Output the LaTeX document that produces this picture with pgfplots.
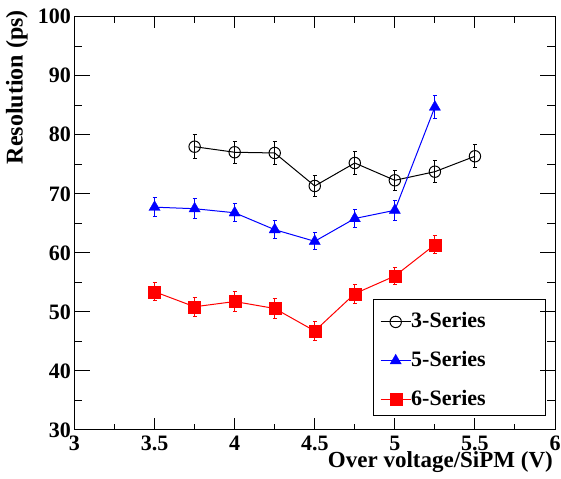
\documentclass[border=0pt]{standalone}
\usepackage{fontspec}
\setmainfont{Liberation Serif}
\usepackage{pgfplots}
\usepackage{pgfplotstable}
\pgfplotsset{compat=1.18}

\pgfplotstableread{
x y e
3.75 77.98 2.0
4.00 77.04 1.9
4.25 76.92 1.9
4.50 71.33 1.8
4.75 75.22 1.9
5.00 72.29 1.7
5.25 73.75 1.9
5.50 76.36 1.95
}\tthree

\pgfplotstableread{
x y e
3.50 67.74 1.65
3.75 67.48 1.7
4.00 66.79 1.55
4.25 63.93 1.57
4.50 61.96 1.46
4.75 65.82 1.55
5.00 67.21 1.7
5.25 84.70 1.9
}\tfive

\pgfplotstableread{
x y e
3.50 53.42 1.5
3.75 50.87 1.6
4.00 51.76 1.66
4.25 50.58 1.66
4.50 46.77 1.69
4.75 53.09 1.63
5.00 56.08 1.5
5.25 61.39 1.57
}\tsix

\begin{document}
\begin{tikzpicture}
\begin{axis}[
  scale only axis,
  width=480.5bp, height=413.3bp,
  xmin=3, xmax=6, ymin=30, ymax=100,
  xtick={3,3.5,...,6}, ytick={30,40,...,100},
  minor xtick={3.25,3.75,...,5.75}, minor ytick={35,45,...,95},
  tick pos=both, tick align=inside,
  axis line style={line width=1bp},
  tick style={black, line width=1bp},
  xtick style={/pgfplots/major tick length=11.7bp,/pgfplots/minor tick length=6bp},
  ytick style={/pgfplots/major tick length=15bp,/pgfplots/minor tick length=7.7bp},
  /pgf/number format/assume math mode=true,
  tick label style={font=\fontsize{22bp}{25bp}\selectfont\bfseries},
  xticklabel={\bfseries\pgfmathprintnumber[assume math mode=true]{\tick}},
  yticklabel={\bfseries\pgfmathprintnumber[assume math mode=true]{\tick}},
  yticklabel style={anchor=east, inner sep=0pt, xshift=-3.5bp},
  xticklabel style={anchor=north, inner sep=0pt, yshift=-6bp},
  legend cell align=left,
  legend image code/.code={\draw[mark repeat=2,mark phase=2,#1] plot coordinates {(0bp,0bp) (15bp,0bp) (30bp,0bp)};},
  legend style={draw=none, fill=none, at={(0.6358,0.2874)}, anchor=north west, inner sep=0pt,
    font=\fontsize{22bp}{26bp}\selectfont\bfseries, row sep=17.8bp,
    /tikz/every even column/.append style={column sep=6bp},
    nodes={inner sep=0pt, text height=16bp, text depth=5bp}},
  error bars/y dir=both, error bars/y explicit,
  error bars/error bar style={line width=1bp},
  error bars/error mark options={rotate=90, mark size=2bp, line width=1bp},
]
\addplot[black, line width=1bp, mark=o, mark size=5.7bp, mark options={line width=1bp}]
  table[x=x, y=y, y error=e] {\tthree};
\addlegendentry{3-Series}
\addplot[blue, line width=1bp, mark=triangle*, mark size=6.5bp, mark options={fill=blue, line width=0.3bp}]
  table[x=x, y=y, y error=e] {\tfive};
\addlegendentry{5-Series}
\addplot[red, line width=1bp, mark=square*, mark size=6bp, mark options={fill=red, line width=0.3bp}]
  table[x=x, y=y, y error=e] {\tsix};
\addlegendentry{6-Series}
\end{axis}
\draw[line width=1bp] (298.8bp,14bp) rectangle (471.2bp,130bp);
\node[rotate=90, anchor=base east, inner sep=0pt, font=\fontsize{24bp}{28bp}\selectfont\bfseries] at (-51.8bp,420bp) {Resolution (ps)};
\node[anchor=base east, inner sep=0pt, font=\fontsize{23bp}{28bp}\selectfont\bfseries] at (478.5bp,-37.5bp) {Over voltage/SiPM (V)};
\pgfresetboundingbox
\useasboundingbox (-74.5bp,-49bp) rectangle (486.5bp,430bp);
\end{tikzpicture}
\end{document}
